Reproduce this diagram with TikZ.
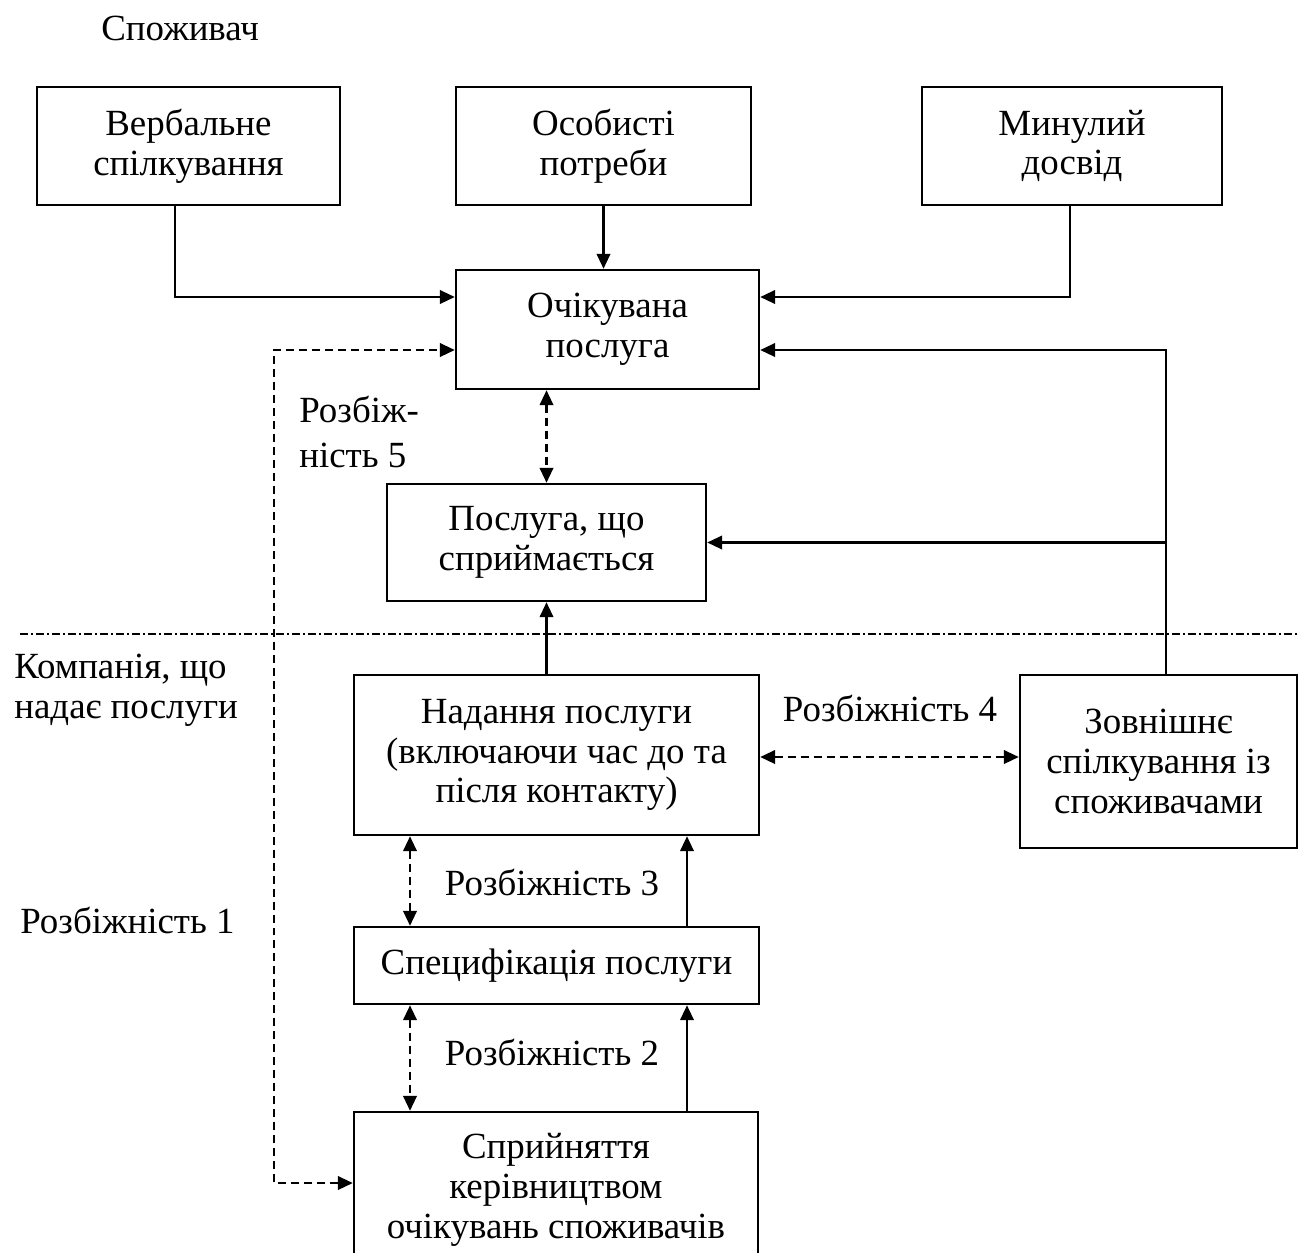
\documentclass[tikz,border=0pt]{standalone}
\usepackage{fontspec}
\setmainfont{Liberation Serif}
\usetikzlibrary{arrows.meta}

\begin{document}
\fontsize{21}{22.6}\selectfont
\begin{tikzpicture}[x=0.02cm, y=-0.02cm,
  box/.style={draw, line width=1.4pt, align=center, inner sep=2pt},
  lbl/.style={inner sep=0pt},
  arr/.style={line width=1.4pt, -{Triangle[length=0.3cm, width=0.27cm]}},
  darr/.style={line width=1.4pt, dash pattern=on 0.16cm off 0.1cm,
    {Triangle[length=0.3cm, width=0.27cm]}-{Triangle[length=0.3cm, width=0.27cm]}},
  border/.style={line width=1.1pt, dash pattern=on 0.16cm off 0.06cm on 0.04cm off 0.06cm}]
  % рамка малюнка
  \path[use as bounding box, clip] (0,0) rectangle (1298,1252);

  % рівень споживача
  \node[lbl, anchor=west] (cons) at (101,28) {Споживач};
  \node[box, minimum width=6.06cm, minimum height=2.36cm] (verb) at (188.5,146) {Вербальне\\спілкування};
  \node[box, minimum width=5.9cm, minimum height=2.36cm] (need) at (603.5,146) {Особисті\\потреби};
  \node[box, minimum width=6.0cm, minimum height=2.36cm] (past) at (1072,146) {Минулий\\досвід};
  \node[box, minimum width=6.06cm, minimum height=2.38cm] (exp) at (607.5,329.5) {Очікувана\\послуга};
  \node[box, minimum width=6.38cm, minimum height=2.34cm] (perc) at (546.5,542.5) {Послуга, що\\сприймається};

  % межа між споживачем і компанією
  \coordinate (bl) at (20,634);
  \coordinate (br) at (1298,634);
  \draw[border] (bl) -- (br);

  % рівень компанії
  \node[lbl, anchor=west, align=left] (firm) at (14,690) {Компанія, що\\надає послуги};
  \node[box, minimum width=8.1cm, minimum height=3.2cm] (deliv) at (556.5,755) {Надання послуги\\(включаючи час до та\\після контакту)};
  \node[box, minimum width=5.54cm, minimum height=3.46cm] (ext) at (1158.5,761.5) {Зовнішнє\\спілкування із\\споживачами};
  \node[box, minimum width=8.1cm, minimum height=1.54cm] (spec) at (556.5,965.5) {Специфікація послуги};
  \node[box, minimum width=8.08cm, minimum height=3.12cm] (mgmt) at (556,1190) {Сприйняття\\керівництвом\\очікувань споживачів};

  % підписи розбіжностей
  \node[lbl, anchor=west] (gap1) at (20,920) {Розбіжність 1};
  \node (gap2) at (552,1052) {Розбіжність 2};
  \node (gap3) at (552,882) {Розбіжність 3};
  \node (gap4) at (890,708) {Розбіжність 4};
  \node[lbl, anchor=west, align=left] (gap5) at (299,432) {Розбіж-\\[3pt]ність 5};

  % точки зламу ліній
  \coordinate (jv) at (175,297);
  \coordinate (jp) at (1070,297);
  \coordinate (je) at (1166,350);
  \coordinate (jl) at (274,350);
  \coordinate (jm) at (274,1183);
  \coordinate (da) at (410,0);
  \coordinate (sa) at (687,0);

  % суцільні стрілки
  \draw[arr] (verb.south -| jv) |- (exp.west |- jv);
  \draw[arr] (need.south) -- (exp.north -| need.south);
  \draw[arr] (past.south -| jp) |- (exp.east |- jp);
  \draw[arr] (ext.north -| je) |- (exp.east |- je);
  \draw[arr] (perc.east -| je) -- (perc.east);
  \draw[arr] (deliv.north -| perc.south) -- (perc.south);
  \draw[arr] (spec.north -| sa) -- (deliv.south -| sa);
  \draw[arr] (mgmt.north -| sa) -- (spec.south -| sa);

  % штрихові стрілки (розбіжності)
  \draw[darr] (mgmt.west |- jm) -| (jl) -- (exp.west |- jl);
  \draw[darr] (exp.south -| perc.north) -- (perc.north);
  \draw[darr] (deliv.east |- 0,757) -- (ext.west |- 0,757);
  \draw[darr] (deliv.south -| da) -- (spec.north -| da);
  \draw[darr] (spec.south -| da) -- (mgmt.north -| da);
\end{tikzpicture}
\end{document}
